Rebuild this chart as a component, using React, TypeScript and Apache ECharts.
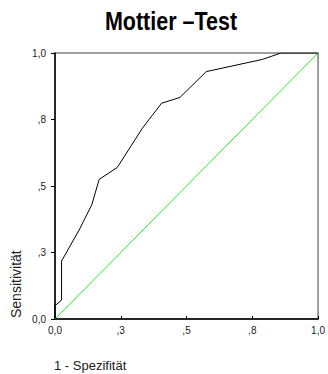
import React, { useEffect, useRef } from "react";
import * as echarts from "echarts";

const fpr = [0, 0, 0.025, 0.025, 0.092, 0.14, 0.168, 0.237, 0.332, 0.405, 0.475, 0.575, 0.789, 0.859, 1];
const tpr = [0, 0.05, 0.071, 0.218, 0.335, 0.43, 0.525, 0.57, 0.717, 0.811, 0.833, 0.93, 0.976, 1, 1];
const refX = [0, 1];
const refY = [0, 1];
const tickLabels = ["0,0", ",3", ",5", ",8", "1,0"];
const titleText = "Mottier \u2013Test";
const xName = "1 - Spezifit\u00e4t";
const yName = "Sensitivit\u00e4t";

export default function App() {
  const ref = useRef<HTMLDivElement>(null);
  useEffect(() => {
    document.body.style.margin = "0";
    const chart = echarts.init(ref.current!, null, { renderer: "svg" });
    const fmt = (v: number) => tickLabels[Math.round(v / 0.25)] ?? "";
    chart.setOption({
      animation: false,
      backgroundColor: "#ffffff",
      grid: {
        left: 55,
        top: 53,
        width: 264,
        height: 266,
        show: true,
        borderColor: "#808080",
        borderWidth: 1.5,
        backgroundColor: "transparent",
      },
      xAxis: {
        type: "value",
        min: 0,
        max: 1,
        interval: 0.25,
        axisLine: { show: true, lineStyle: { color: "#000", width: 1.5 } },
        axisTick: { show: true, inside: true, length: 3, lineStyle: { color: "#000" } },
        splitLine: { show: false },
        axisLabel: {
          formatter: fmt,
          margin: 6,
          fontSize: 10,
          color: "#222",
          fontFamily: "'Liberation Sans', Arial, sans-serif",
        },
      },
      yAxis: {
        type: "value",
        min: 0,
        max: 1,
        interval: 0.25,
        axisLine: { show: true, lineStyle: { color: "#000", width: 1.5 } },
        axisTick: { show: true, length: 4, lineStyle: { color: "#000" } },
        splitLine: { show: false },
        axisLabel: {
          formatter: fmt,
          margin: 9,
          fontSize: 10,
          color: "#222",
          fontFamily: "'Liberation Sans', Arial, sans-serif",
        },
      },
      graphic: [
        {
          type: "text",
          x: 171,
          y: 21,
          scaleX: 0.86,
          style: {
            text: titleText,
            textAlign: "center",
            textVerticalAlign: "middle",
            fontSize: 25,
            fontWeight: "bold",
            fill: "#000",
            fontFamily: "'Liberation Sans', Arial, sans-serif",
          },
        },
        {
          type: "text",
          x: 16,
          y: 318,
          rotation: Math.PI / 2,
          style: {
            text: yName,
            textAlign: "left",
            textVerticalAlign: "middle",
            fontSize: 14,
            fill: "#222",
            fontFamily: "'Liberation Sans', Arial, sans-serif",
          },
        },
        {
          type: "text",
          x: 54,
          y: 365,
          style: {
            text: xName,
            textAlign: "left",
            textVerticalAlign: "middle",
            fontSize: 13,
            fill: "#222",
            fontFamily: "'Liberation Sans', Arial, sans-serif",
          },
        },
      ],
      series: [
        {
          type: "line",
          data: refX.map((x, i) => [x, refY[i]]),
          showSymbol: false,
          lineStyle: { color: "#22ee22", width: 1 },
          z: 2,
        },
        {
          type: "line",
          data: fpr.map((x, i) => [x, tpr[i]]),
          showSymbol: false,
          lineStyle: { color: "#000", width: 1 },
          z: 3,
        },
      ],
    });
    return () => chart.dispose();
  }, []);
  return <div ref={ref} style={{ width: 328, height: 374 }} />;
}
